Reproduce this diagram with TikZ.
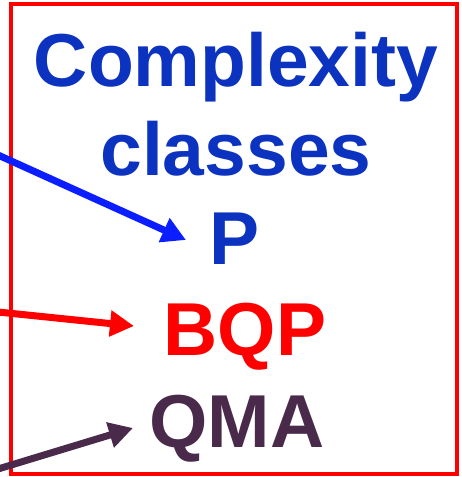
\documentclass[tikz,border=0pt]{standalone}
\usepackage{fontspec}
\setmainfont{Liberation Sans}
\usetikzlibrary{arrows.meta}
\definecolor{titleblue}{RGB}{12,50,192}
\definecolor{arrowblue}{RGB}{10,30,255}
\definecolor{qmapurple}{RGB}{74,42,74}
\begin{document}
\begin{tikzpicture}[x=1pt,y=-1pt,
  lbl/.style={anchor=base,inner sep=0pt,font=\fontsize{75}{90}\selectfont\bfseries},
  arr/.style={line width=7pt,-{Triangle[length=24pt,width=25pt]}}]
\useasboundingbox (0,0) rectangle (461,477);
\draw[red,line width=4.8pt] (11,4) rectangle (457,474);
\node[lbl,text=titleblue] (t1) at (236,86) {Complexity};
\node[lbl,text=titleblue] (t2) at (236,175) {classes};
\node[lbl,text=titleblue] (p) at (235,264) {P};
\node[lbl,text=red] (bqp) at (245,355) {BQP};
\node[lbl,text=qmapurple] (qma) at (237,447) {QMA};
\coordinate (s1) at (-2,155);
\coordinate (e1) at (186,240);
\coordinate (s2) at (-2,312);
\coordinate (e2) at (134,326);
\coordinate (s3) at (-2,469);
\coordinate (e3) at (133,428);
\draw[arr,arrowblue] (s1) -- (e1);
\draw[arr,red] (s2) -- (e2);
\draw[arr,qmapurple] (s3) -- (e3);
\end{tikzpicture}
\end{document}
